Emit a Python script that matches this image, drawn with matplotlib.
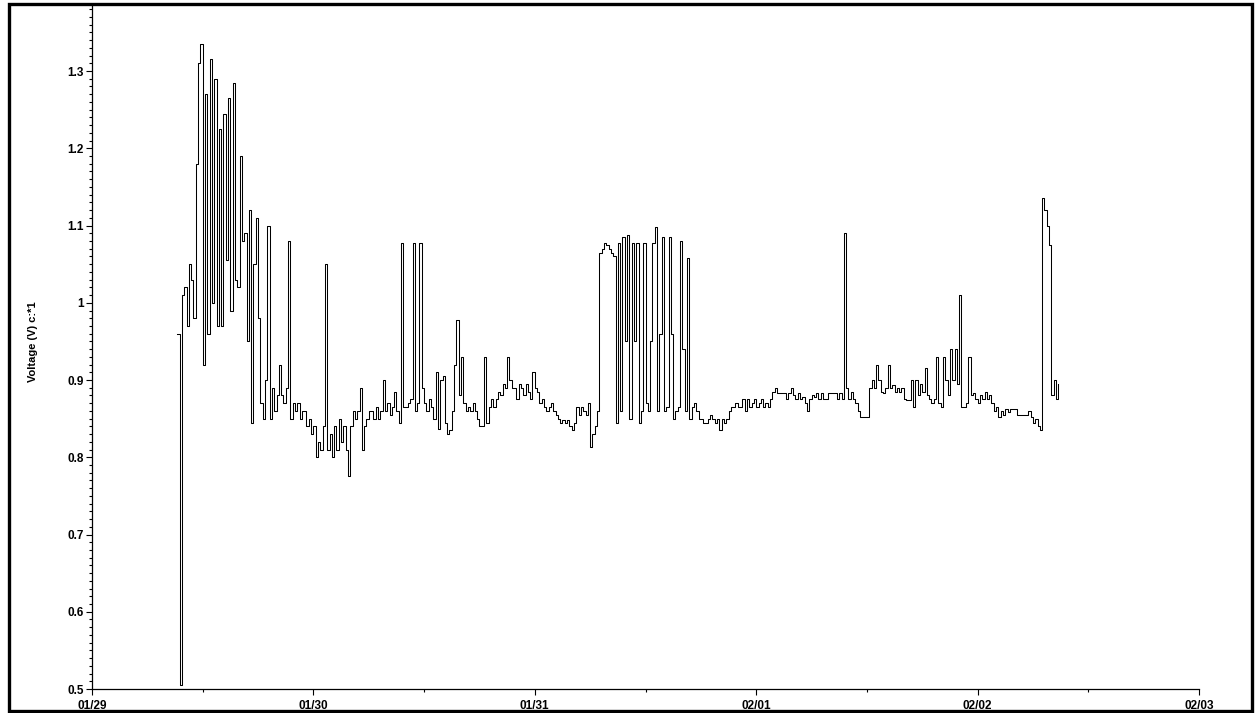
import numpy as np
import matplotlib as mpl
mpl.use("Agg")
import matplotlib.pyplot as plt
import matplotlib.dates as mdates
import matplotlib.ticker as mticker
from matplotlib.patches import Rectangle

mpl.rcParams['font.family'] = 'Liberation Sans'

## Logger record: one reading every 15 minutes
start    = np.datetime64('2009-01-29T09:15')
interval = np.timedelta64(15, 'm')

volts = [
	0.96, 0.505, 1.01, 1.02, 0.97, 1.05, 1.03, 0.98, 1.18, 1.31,
	1.335, 0.92, 1.27, 0.96, 1.315, 1.0, 1.29, 0.97, 1.225, 0.97,
	1.245, 1.055, 1.265, 0.99, 1.285, 1.03, 1.02, 1.19, 1.08, 1.09,
	0.95, 1.12, 0.844, 1.05, 1.11, 0.98, 0.87, 0.85, 0.9, 1.1,
	0.85, 0.89, 0.86, 0.88, 0.92, 0.88, 0.87, 0.89, 1.08, 0.85,
	0.87, 0.86, 0.87, 0.85, 0.86, 0.86, 0.84, 0.85, 0.83, 0.84,
	0.8, 0.82, 0.81, 0.84, 1.05, 0.81, 0.83, 0.8, 0.84, 0.81,
	0.85, 0.82, 0.84, 0.81, 0.776, 0.84, 0.86, 0.85, 0.86, 0.89,
	0.81, 0.84, 0.85, 0.86, 0.86, 0.85, 0.865, 0.85, 0.86, 0.9,
	0.86, 0.87, 0.855, 0.865, 0.885, 0.86, 0.845, 1.077, 0.865, 0.865,
	0.87, 0.875, 1.078, 0.86, 0.87, 1.078, 0.89, 0.87, 0.86, 0.875,
	0.865, 0.85, 0.91, 0.836, 0.9, 0.905, 0.845, 0.83, 0.835, 0.86,
	0.92, 0.978, 0.88, 0.93, 0.87, 0.86, 0.865, 0.86, 0.87, 0.86,
	0.85, 0.84, 0.84, 0.93, 0.845, 0.865, 0.875, 0.865, 0.875, 0.885,
	0.88, 0.895, 0.89, 0.93, 0.9, 0.89, 0.89, 0.875, 0.895, 0.89,
	0.88, 0.895, 0.885, 0.875, 0.91, 0.89, 0.885, 0.87, 0.875, 0.865,
	0.86, 0.865, 0.87, 0.86, 0.855, 0.85, 0.845, 0.848, 0.845, 0.848,
	0.84, 0.835, 0.845, 0.865, 0.855, 0.865, 0.86, 0.855, 0.87, 0.813,
	0.83, 0.84, 0.86, 1.065, 1.07, 1.077, 1.075, 1.07, 1.065, 1.06,
	0.845, 1.078, 0.86, 1.085, 0.95, 1.088, 0.85, 1.077, 0.95, 1.077,
	0.845, 0.86, 1.077, 0.87, 0.86, 0.95, 1.077, 1.098, 0.86, 0.96,
	1.085, 0.86, 0.865, 1.085, 0.96, 0.85, 0.86, 0.865, 1.08, 0.94,
	0.86, 1.058, 0.85, 0.865, 0.87, 0.86, 0.85, 0.85, 0.845, 0.845,
	0.85, 0.855, 0.85, 0.845, 0.85, 0.835, 0.85, 0.845, 0.85, 0.86,
	0.865, 0.865, 0.87, 0.865, 0.865, 0.875, 0.86, 0.875, 0.865, 0.87,
	0.875, 0.865, 0.87, 0.875, 0.865, 0.87, 0.865, 0.875, 0.885, 0.89,
	0.883, 0.883, 0.883, 0.883, 0.875, 0.883, 0.89, 0.88, 0.875, 0.883,
	0.875, 0.878, 0.87, 0.86, 0.875, 0.88, 0.878, 0.883, 0.875, 0.883,
	0.875, 0.875, 0.883, 0.883, 0.883, 0.883, 0.875, 0.883, 0.875, 1.09,
	0.89, 0.875, 0.885, 0.875, 0.87, 0.86, 0.852, 0.852, 0.852, 0.852,
	0.89, 0.9, 0.89, 0.92, 0.9, 0.885, 0.883, 0.89, 0.92, 0.89,
	0.893, 0.885, 0.89, 0.885, 0.89, 0.875, 0.874, 0.874, 0.9, 0.865,
	0.9, 0.88, 0.895, 0.885, 0.915, 0.88, 0.875, 0.87, 0.875, 0.93,
	0.87, 0.865, 0.93, 0.9, 0.88, 0.94, 0.9, 0.94, 0.895, 1.01,
	0.865, 0.865, 0.87, 0.93, 0.88, 0.883, 0.875, 0.87, 0.88, 0.875,
	0.885, 0.875, 0.88, 0.87, 0.86, 0.865, 0.852, 0.86, 0.855, 0.862,
	0.858, 0.862, 0.862, 0.862, 0.855, 0.855, 0.855, 0.855, 0.855, 0.86,
	0.852, 0.845, 0.85, 0.84, 0.835, 1.135, 1.12, 1.1, 1.075, 0.88,
	0.9, 0.875, 0.895,
]

ylabel = "Voltage (V) c:*1"
x_min  = np.datetime64('2009-01-29')
x_max  = np.datetime64('2009-02-03')
y_min  = 0.5
y_max  = 1.3855

times = start + interval * np.arange(len(volts))

fig = plt.figure(figsize=(12.57, 7.13), dpi=100)
ax  = fig.add_axes([92/1257, 1 - 689/713, (1199 - 92)/1257, (689 - 5)/713])

ax.plot(times.astype('datetime64[m]').astype(object), volts, color='black', lw=0.75, drawstyle='steps-post')

ax.set_xlim(x_min.astype(object), x_max.astype(object))
ax.set_ylim(y_min, y_max)

for side in ['top', 'right']:
	ax.spines[side].set_visible(False)
for side in ['left', 'bottom']:
	ax.spines[side].set_linewidth(0.9)

ax.xaxis.set_major_locator(mdates.DayLocator())
ax.xaxis.set_major_formatter(mdates.DateFormatter('%m/%d'))
ax.xaxis.set_minor_locator(mdates.HourLocator(byhour=[12]))
ax.yaxis.set_major_locator(mticker.MultipleLocator(0.1))
ax.yaxis.set_minor_locator(mticker.MultipleLocator(0.01))
ax.yaxis.set_major_formatter(mticker.FuncFormatter(lambda v, p: '%g' % round(v, 2)))

ax.tick_params(which='major', length=4.5, width=0.8, pad=1.5, labelsize=8.5)
ax.tick_params(which='minor', length=2, width=0.8)
ax.tick_params(axis='x', which='major', pad=3.5)
for lab in ax.get_xticklabels() + ax.get_yticklabels():
	lab.set_fontweight('bold')

fig.text(33/1257, 1 - 342/713, ylabel, rotation=90, ha='center', va='center', fontsize=8, fontweight='bold')

## frame around the whole sheet
fig.patches.append(Rectangle((8.5/1257, 1 - 710.5/713), (1251.5 - 8.5)/1257, (710.5 - 4)/713,
	transform=fig.transFigure, fill=False, edgecolor='black', linewidth=2.4, zorder=10))

fig.savefig('out.png', dpi=100)
